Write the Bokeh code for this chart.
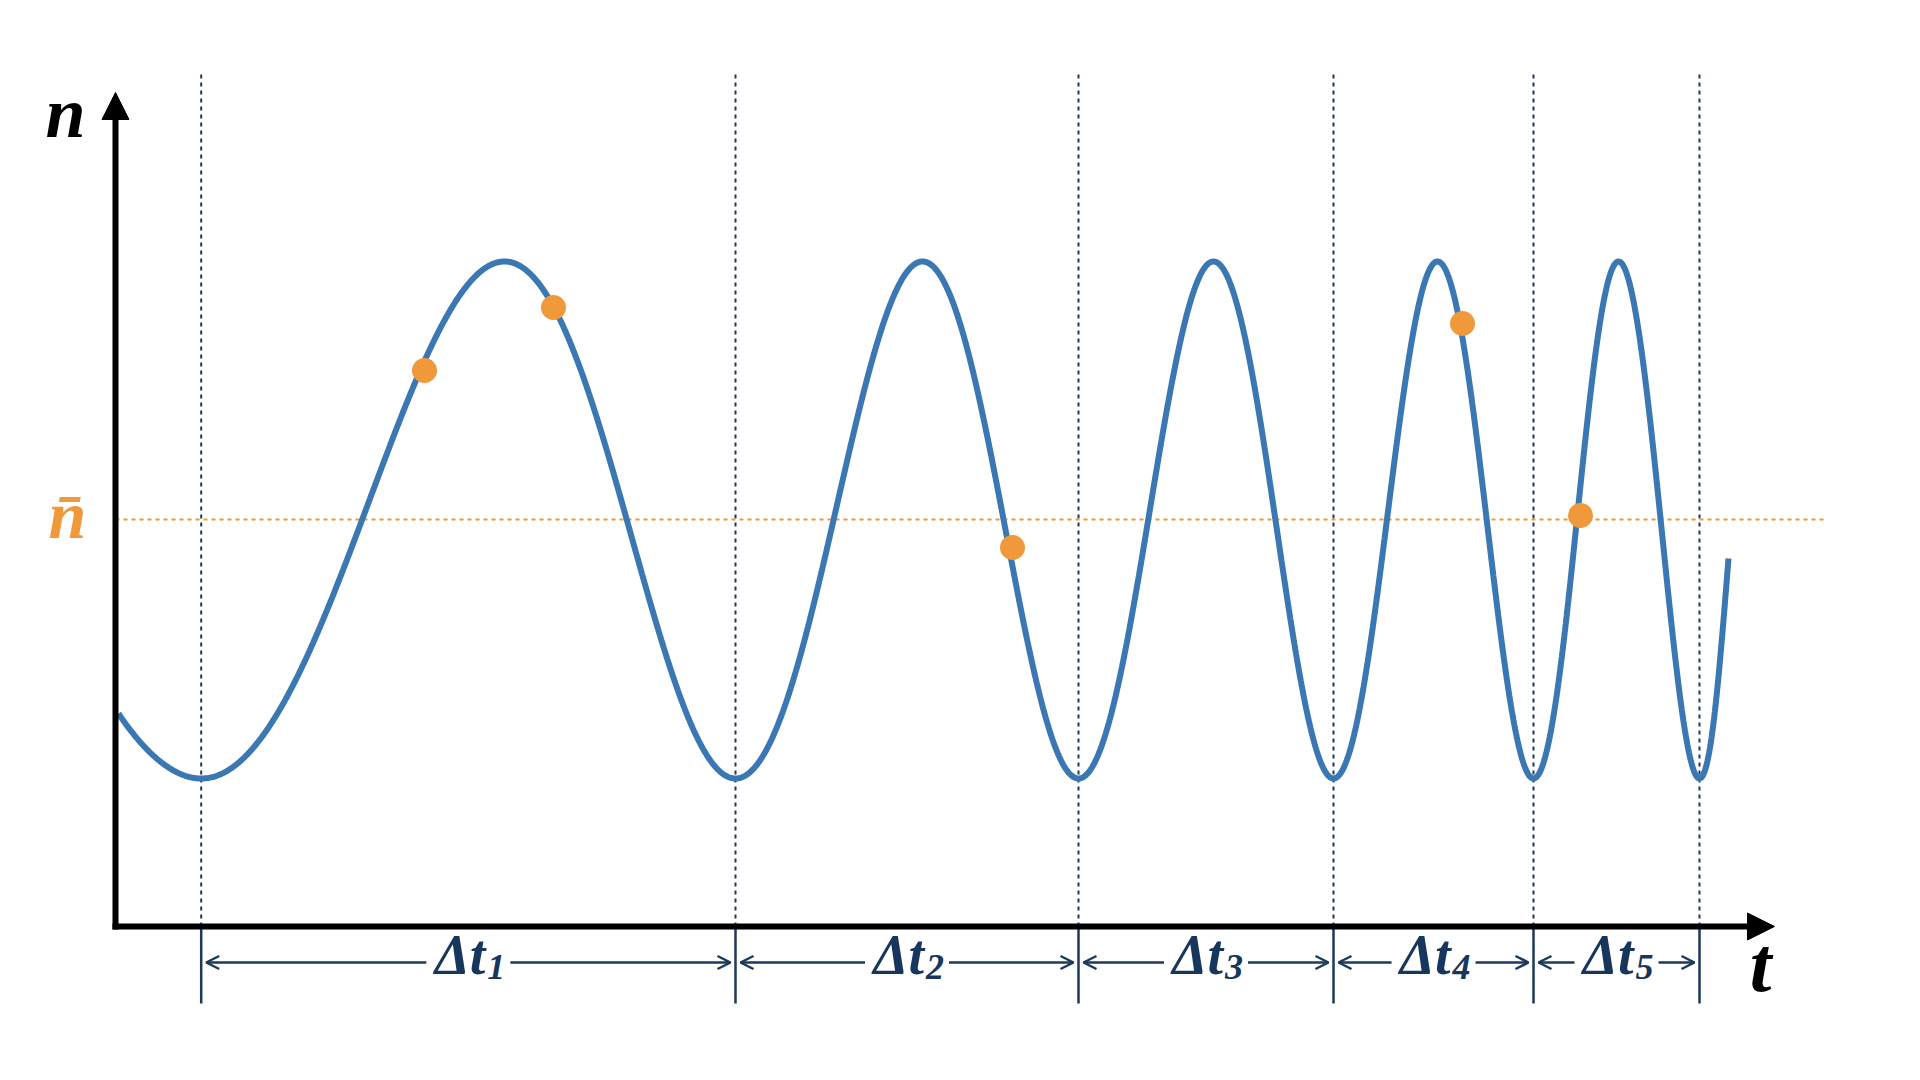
import numpy as np
from bokeh.plotting import figure
from bokeh.models import Range1d, Arrow, NormalHead, OpenHead, Label, ColumnDataSource
from bokeh.embed import file_html
from bokeh.resources import INLINE
from bokeh.core.properties import value

# ---------------- data (t and n in chart units) ----------------
minima_t = [0.857, 6.20, 9.63, 12.18, 14.18, 15.84]   # interval boundaries (curve minima)
peaks_t = [3.89, 8.07, 10.98, 13.22, 15.03]             # curve maxima
interval_subs = ["1", "2", "3", "4", "5"]
n_max = 6.65
n_min = 1.48
n_bar = 4.07
curve_start = [0.03, 2.13]
curve_end = [16.13, 3.68]
dots_t = [3.09, 4.38, 8.97, 13.47, 14.65]
dots_n = [5.56, 6.19, 3.79, 6.03, 4.11]

# ---------------- styles ----------------
BLUE = "#3B77B2"
ORANGE = "#F0993A"
NAVY = "#1D3A5C"
LABEL_NAVY = "#17365E"
FONT_NAME = "Liberation Serif"
FONT = value(FONT_NAME)

# ---------------- curve: smooth phase through the extrema ----------------
center = (n_max + n_min) / 2
amp = (n_max - n_min) / 2
ext_t = sorted(minima_t + peaks_t)
ext_phase = [k * np.pi for k in range(len(ext_t))]
ph_start = -np.arccos((center - curve_start[1]) / amp)
ph_end = ext_phase[-1] + np.arccos((center - curve_end[1]) / amp)
kx = np.array([curve_start[0]] + ext_t + [curve_end[0]])
ky = np.array([ph_start] + ext_phase + [ph_end])


def pchip(x, y, xs):
    h = np.diff(x)
    d = np.diff(y) / h
    m = np.zeros_like(y)
    m[0] = d[0]
    m[-1] = d[-1]
    for k in range(1, len(x) - 1):
        if d[k - 1] * d[k] > 0:
            w1 = 2 * h[k] + h[k - 1]
            w2 = h[k] + 2 * h[k - 1]
            m[k] = (w1 + w2) / (w1 / d[k - 1] + w2 / d[k])
    idx = np.clip(np.searchsorted(x, xs) - 1, 0, len(x) - 2)
    s = (xs - x[idx]) / h[idx]
    h00 = 2 * s**3 - 3 * s**2 + 1
    h10 = s**3 - 2 * s**2 + s
    h01 = -2 * s**3 + 3 * s**2
    h11 = s**3 - s**2
    return h00 * y[idx] + h10 * h[idx] * m[idx] + h01 * y[idx + 1] + h11 * h[idx] * m[idx + 1]


ts = np.linspace(kx[0], kx[-1], 2000)
ns = center - amp * np.cos(pchip(kx, ky, ts))

# ---------------- figure ----------------
p = figure(width=1904, height=1064,
           x_range=Range1d(-1.15, 17.89), y_range=Range1d(-1.38, 9.26),
           output_backend="svg", toolbar_location=None, min_border=0,
           x_axis_location=None, y_axis_location=None)
p.grid.visible = False
p.outline_line_color = None
p.background_fill_color = "white"
p.border_fill_color = "white"

# dotted vertical guides above the axis, solid ticks below
p.segment(x0=minima_t, y0=[0] * len(minima_t), x1=minima_t, y1=[8.54] * len(minima_t),
          line_color=NAVY, line_width=2, line_dash="4 4")
p.segment(x0=minima_t, y0=[0] * len(minima_t), x1=minima_t, y1=[-0.77] * len(minima_t),
          line_color=NAVY, line_width=2.5)

# mean level
p.segment(x0=[0], y0=[n_bar], x1=[17.12], y1=[n_bar],
          line_color=ORANGE, line_width=2, line_dash="4 4")

# curve and points
p.line(ts, ns, line_color=BLUE, line_width=6)
p.scatter(dots_t, dots_n, size=25, fill_color=ORANGE, line_color=None)

# axes as arrows
p.add_layout(Arrow(end=NormalHead(size=27, fill_color="black", line_color="black"),
                   x_start=0, y_start=-0.03, x_end=0, y_end=8.34,
                   line_width=6, line_color="black"))
p.add_layout(Arrow(end=NormalHead(size=27, fill_color="black", line_color="black"),
                   x_start=-0.03, y_start=0, x_end=16.59, y_end=0,
                   line_width=6, line_color="black"))

# interval arrows
gap = 0.42
inset = 0.05
arrow_y = -0.36
centers = [(a + b) / 2 for a, b in zip(minima_t[:-1], minima_t[1:])]
xs, xe = [], []
for c, a, b in zip(centers, minima_t[:-1], minima_t[1:]):
    xs += [c - gap, c + gap]
    xe += [a + inset, b - inset]
asrc = ColumnDataSource(dict(xs=xs, xe=xe, ys=[arrow_y] * len(xs), ye=[arrow_y] * len(xs)))
p.add_layout(Arrow(end=OpenHead(size=13, line_color=NAVY, line_width=2.5),
                   source=asrc, x_start="xs", y_start="ys", x_end="xe", y_end="ye",
                   line_color=NAVY, line_width=2.5))

lsrc = ColumnDataSource(dict(x=centers, y=[-0.28] * len(centers), ysub=[-0.40] * len(centers),
                             main=["\u0394t"] * len(centers), sub=interval_subs))
p.text(x="x", y="y", text="main", source=lsrc, text_font=FONT, text_font_style="bold italic",
       text_font_size="56px", text_color=LABEL_NAVY, text_align="right",
       text_baseline="alphabetic", x_offset=17)
p.text(x="x", y="ysub", text="sub", source=lsrc, text_font=FONT, text_font_style="bold italic",
       text_font_size="36px", text_color=LABEL_NAVY, text_align="left",
       text_baseline="alphabetic", x_offset=19)

# axis labels
p.add_layout(Label(x=-0.5, y=8.14, text="n", text_font=FONT_NAME,
                   text_font_style="bold italic", text_font_size="72px", text_color="black",
                   text_align="center", text_baseline="alphabetic"))
p.add_layout(Label(x=16.45, y=-0.38, text="t", text_font=FONT_NAME,
                   text_font_style="bold italic", text_font_size="78px", text_color="black",
                   text_align="center", text_baseline="alphabetic"))
p.add_layout(Label(x=-0.48, y=4.12, text="n\u0304", text_font=FONT_NAME,
                   text_font_style="bold italic", text_font_size="68px", text_color=ORANGE,
                   text_align="center", text_baseline="alphabetic"))

open("out.html", "w").write(file_html(p, INLINE))
